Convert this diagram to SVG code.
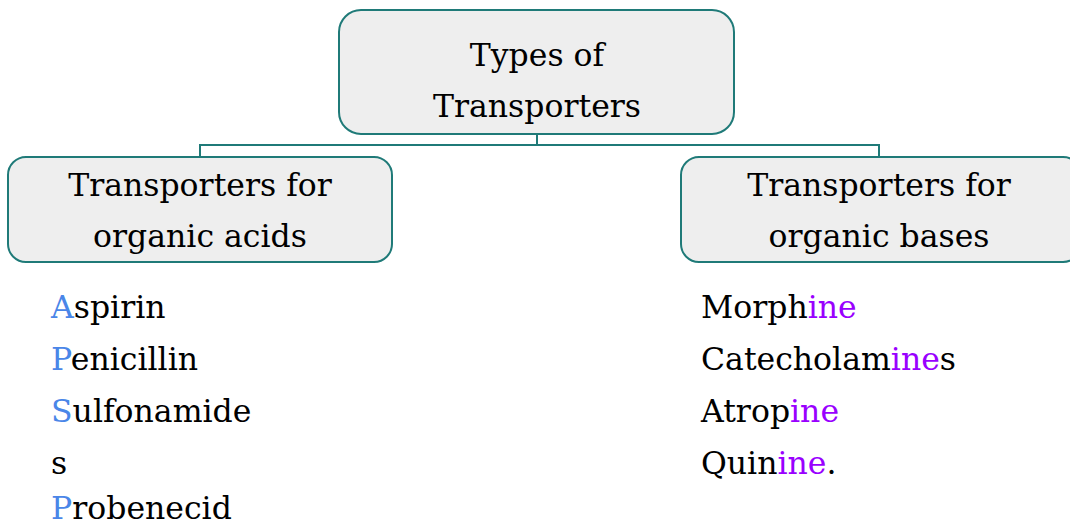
<svg xmlns="http://www.w3.org/2000/svg" width="1070" height="527" viewBox="0 0 1070 527">
<style>
.box{fill:#eeeeee;stroke:#1f7a78;stroke-width:2}
.conn{fill:none;stroke:#1f7a78;stroke-width:2}
text{font-family:"DejaVu Serif","Liberation Serif",serif;font-size:31.5px;fill:#000}
.c{text-anchor:middle}
.b{fill:#4a86e8}
.p{fill:#9900ff}
</style>
<rect width="1070" height="527" fill="#ffffff"/>
<g id="connectors">
<path class="conn" d="M537,134 V145 M200,157 V145 H879 V157"/>
</g>
<g id="root">
<rect class="box" x="339" y="10" width="395" height="124" rx="22"/>
<text class="c" x="537" y="66">Types of</text>
<text class="c" x="537" y="117">Transporters</text>
</g>
<g id="acids">
<rect class="box" x="8" y="157" width="384" height="105" rx="18"/>
<text class="c" x="200" y="196">Transporters for</text>
<text class="c" x="200" y="247">organic acids</text>
</g>
<g id="bases">
<rect class="box" x="681" y="157" width="400" height="105" rx="18"/>
<text class="c" x="879" y="196">Transporters for</text>
<text class="c" x="879" y="247">organic bases</text>
</g>
<g id="acid-list">
<text x="51" y="318"><tspan class="b">A</tspan>spirin</text>
<text x="51" y="370"><tspan class="b">P</tspan>enicillin</text>
<text x="51" y="422"><tspan class="b">S</tspan>ulfonamide</text>
<text x="51" y="474">s</text>
<text x="51" y="519"><tspan class="b">P</tspan>robenecid</text>
</g>
<g id="base-list">
<text x="701" y="318">Morph<tspan class="p">ine</tspan></text>
<text x="701" y="370">Catecholam<tspan class="p">ine</tspan>s</text>
<text x="701" y="422">Atrop<tspan class="p">ine</tspan></text>
<text x="701" y="474">Quin<tspan class="p">ine</tspan>.</text>
</g>
</svg>
